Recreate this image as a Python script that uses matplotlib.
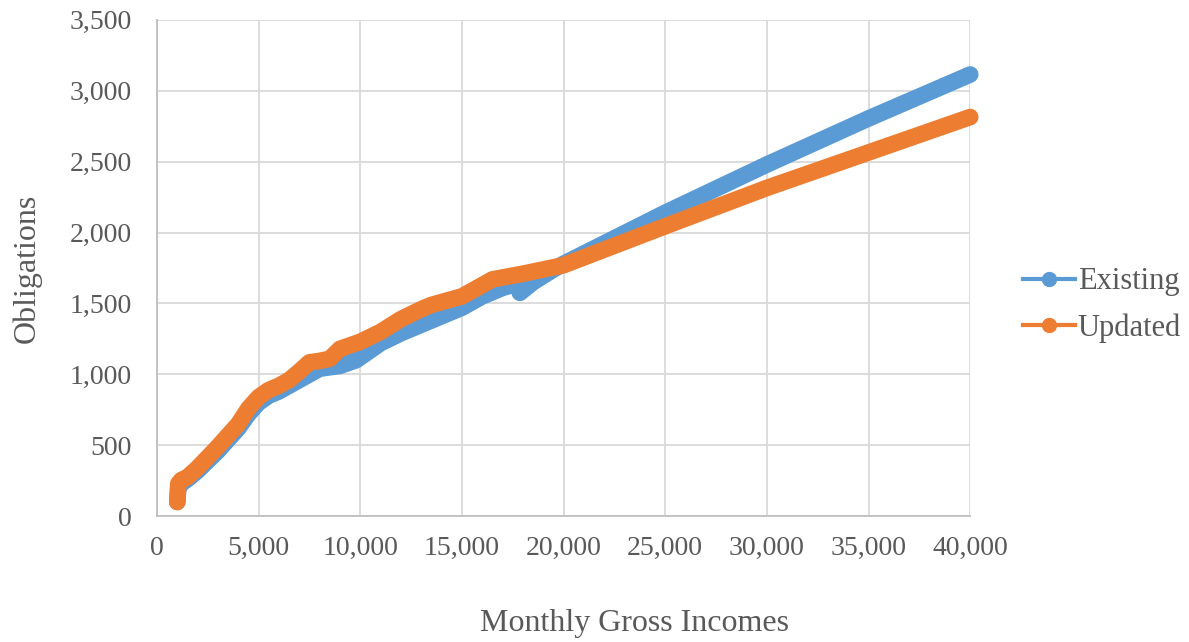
import matplotlib
matplotlib.use("Agg")
import matplotlib.pyplot as plt
from matplotlib.lines import Line2D
from matplotlib.ticker import FuncFormatter

income_existing = [1000, 1050, 1200, 1500, 2000, 3000, 4000, 4500, 5000, 5500, 6000, 6500, 7000, 7500,
                   8000, 9000, 9800, 11000, 12000, 13000, 14000, 15000, 16000, 17000, 17700, 17850,
                   18500, 19500, 20000, 25000, 30000, 35000, 40000]
existing = [100, 200, 230, 260, 320, 460, 620, 720, 800, 850, 880, 920, 960, 1000,
            1040, 1060, 1100, 1220, 1290, 1350, 1410, 1470, 1550, 1610, 1640, 1575,
            1650, 1740, 1780, 2140, 2480, 2805, 3115]

income_updated = [1000, 1050, 1200, 1500, 2000, 3000, 4000, 4500, 5000, 5500, 6000, 6500, 7000, 7500,
                  8000, 8500, 9000, 10000, 11000, 12000, 13000, 13500, 14000, 15000, 16000, 16500,
                  18000, 20000, 25000, 30000, 35000, 40000]
updated = [100, 230, 255, 275, 340, 490, 650, 760, 840, 890, 920, 960, 1020, 1085,
           1095, 1110, 1180, 1230, 1300, 1390, 1460, 1490, 1510, 1550, 1630, 1670,
           1710, 1770, 2045, 2315, 2565, 2815]

series_names = ["Existing", "Updated"]
colors = ["#5B9BD5", "#ED7D31"]

plt.rcParams['font.family'] = ['Liberation Serif', 'DejaVu Serif']

fig = plt.figure(figsize=(11.89, 6.42), dpi=100)
ax = fig.add_axes([0.132, 0.196, 0.684, 0.773])

ax.plot(income_existing, existing, color=colors[0], lw=12, solid_capstyle='round',
        solid_joinstyle='round', zorder=3, clip_on=False)
ax.plot(income_updated, updated, color=colors[1], lw=12, solid_capstyle='round',
        solid_joinstyle='round', zorder=4, clip_on=False)

ax.set_xlim(0, 40000)
ax.set_ylim(0, 3500)
ax.set_xticks(range(0, 40001, 5000))
ax.set_yticks(range(0, 3501, 500))
fmt = FuncFormatter(lambda v, p: f"{int(v):,}")
ax.xaxis.set_major_formatter(fmt)
ax.yaxis.set_major_formatter(fmt)
ax.grid(True, color="#D9D9D9", lw=1.3)
ax.set_axisbelow(True)
for s in ["top", "right"]:
    ax.spines[s].set_visible(False)
for s in ["left", "bottom"]:
    ax.spines[s].set_color("#BFBFBF")
    ax.spines[s].set_linewidth(1.3)
ax.tick_params(length=0, labelsize=20, colors="#595959")
ax.tick_params(axis='y', pad=18)
ax.tick_params(axis='x', pad=14)
ax.set_xlabel("Monthly Gross Incomes", fontsize=23, color="#595959")
ax.xaxis.label.set_verticalalignment('center')
ax.xaxis.set_label_coords(635 / 1189, 1 - 623 / 642, transform=fig.transFigure)
ax.set_ylabel("Obligations", fontsize=23, color="#595959", labelpad=20)

handles = [Line2D([0], [0], color=c, lw=3, marker='o', markersize=10) for c in colors]
leg = fig.legend(handles, series_names, loc='center left', bbox_to_anchor=(0.837, 0.525),
                 frameon=False, fontsize=22, labelcolor="#595959", handlelength=1.7,
                 handletextpad=0.1, labelspacing=0.55)

fig.savefig("out.png", dpi=100)
